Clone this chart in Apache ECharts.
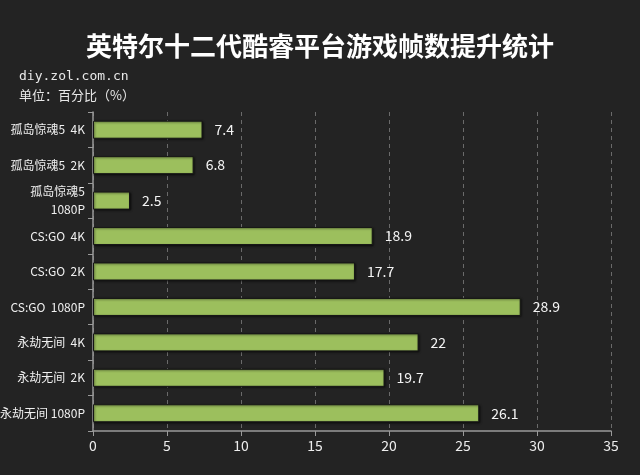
<!DOCTYPE html>
<html><head><meta charset="utf-8">
<script src="https://cdn.jsdelivr.net/npm/echarts@6/dist/echarts.min.js"></script>
<style>html,body{margin:0;padding:0;background:#232323;}#c{width:640px;height:475px;}</style>
</head><body><div id="c"></div>
<script>
const categories = ['孤岛惊魂5  4K','孤岛惊魂5  2K','孤岛惊魂5\n1080P','CS:GO  4K','CS:GO  2K','CS:GO  1080P','永劫无间  4K','永劫无间  2K','永劫无间 1080P'];
const values = [7.4, 6.8, 2.5, 18.9, 17.7, 28.9, 22, 19.7, 26.1];
const xTicks = {min: 0, max: 35, interval: 5};

const chart = echarts.init(document.getElementById('c'));
chart.setOption({
  backgroundColor: '#232323',
  animation: false,
  title: [
    {text: '英特尔十二代酷睿平台游戏帧数提升统计', left: 'center', top: 28,
     textStyle: {color: '#ffffff', fontSize: 26, fontWeight: 'bold', fontFamily: 'Noto Sans CJK SC'}},
    {text: 'diy.zol.com.cn', left: 14, top: 65,
     textStyle: {color: '#e8e8e8', fontSize: 13, fontWeight: 'normal', fontFamily: 'DejaVu Sans Mono'}},
    {text: '单位：百分比（%）', left: 14, top: 84,
     textStyle: {color: '#e8e8e8', fontSize: 13, fontWeight: 'normal', fontFamily: 'Noto Sans CJK SC'}}
  ],
  grid: {left: 93, right: 29, top: 112, bottom: 44, containLabel: false, outerBoundsMode: 'none'},
  xAxis: {
    type: 'value', min: xTicks.min, max: xTicks.max, interval: xTicks.interval,
    axisLine: {show: true, lineStyle: {color: '#9a9a9a', width: 1.5}},
    axisTick: {show: true, length: 5, lineStyle: {color: '#9a9a9a'}},
    axisLabel: {color: '#eeeeee', fontSize: 14, margin: 8, fontFamily: 'Noto Sans CJK SC'},
    splitLine: {show: true, lineStyle: {color: '#6a6a6a', type: [4, 4], width: 1}}
  },
  yAxis: {
    type: 'category', data: categories, inverse: true,
    axisLine: {show: true, lineStyle: {color: '#9a9a9a', width: 1.5}},
    axisTick: {show: true, length: 5, lineStyle: {color: '#9a9a9a'}},
    axisLabel: {color: '#f0f0f0', fontSize: 12, margin: 8, lineHeight: 18, fontFamily: 'Noto Sans CJK SC'},
    splitLine: {show: false}
  },
  series: [{
    type: 'bar', data: values, barWidth: 18,
    itemStyle: {color: '#9cbf5d', borderColor: '#151515', borderWidth: 1,
      shadowColor: 'rgba(0,0,0,0.5)', shadowBlur: 2, shadowOffsetX: 1, shadowOffsetY: 1},
    label: {show: true, position: 'right', distance: 12, color: '#f4f4f4', fontSize: 14,
      fontFamily: 'Noto Sans CJK SC'}
  }]
});
</script></body></html>
